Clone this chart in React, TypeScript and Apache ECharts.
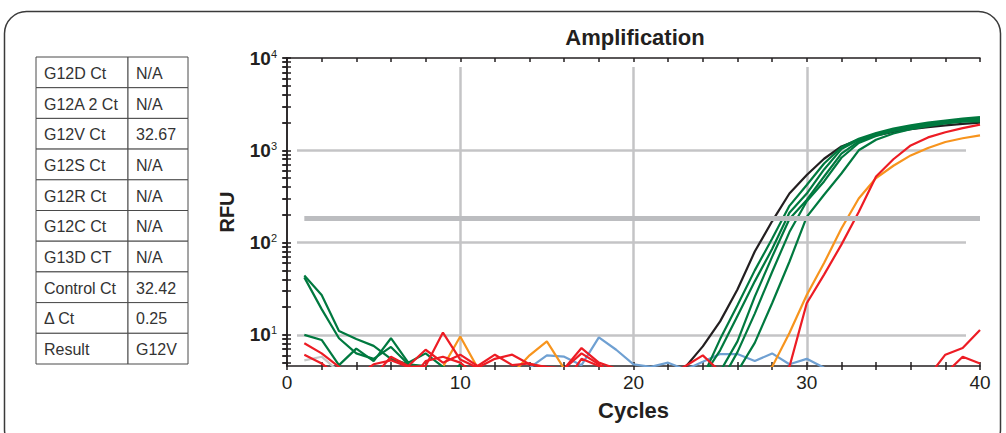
import React, { useEffect, useRef } from "react";
import * as echarts from "echarts";

// ---------------- data ----------------
const cycles = [1, 2, 3, 4, 5, 6, 7, 8, 9, 10, 11, 12, 13, 14, 15, 16, 17, 18, 19, 20,
  21, 22, 23, 24, 25, 26, 27, 28, 29, 30, 31, 32, 33, 34, 35, 36, 37, 38, 39, 40];

const grayRFU = [5.3, 5.8, 4.0, 3, 3, 3, 3, 3, 3, 3, 3, 3, 3, 3, 3, 3, 3, 3, 3, 3,
  3, 3, 3, 3, 3, 3, 3, 3, 3, 3, 3, 3, 3, 3, 3, 3, 3, 3, 3, 3];

const blueRFU = [3, 3, 3, 3, 3, 3, 3, 3, 3, 3, 3, 3, 3, 4.4, 6.0, 5.8, 4.7, 9.4, 6.9, 4.8,
  4.5, 5.0, 4.2, 5.1, 6.2, 6.2, 5.2, 6.3, 4.8, 5.5, 4.4, 3, 3, 3, 3, 3, 3, 3, 3, 3];

const orangeRFU = [3, 3, 3, 3, 3, 3, 3, 3, 4.5, 9.6, 4.4, 3.5, 3.8, 6.0, 8.5, 4.3, 3, 3, 3, 3,
  3, 3, 3, 3, 3, 3, 3.5, 4.5, 10.5, 27, 60, 142, 300, 500, 680, 880, 1060, 1230, 1350, 1450];

const controlRFU = [3, 3, 3, 3, 3, 3, 3, 3, 3, 3, 3, 3, 3, 3, 3, 3, 3, 3, 3, 3,
  3, 3, 4.5, 7.5, 14, 31, 80, 170, 340, 540, 810, 1100, 1300, 1450, 1580, 1690, 1780, 1860, 1930, 1990];

const green1RFU = [44, 27, 11, 9, 7.6, 5.5, 4.8, 3.5, 3, 3, 3, 3, 3, 3, 3, 3, 3, 3, 3, 3,
  3, 3, 3, 3.5, 9.0, 21, 50, 110, 250, 420, 720, 1080, 1330, 1540, 1720, 1860, 1990, 2100, 2200, 2290];

const green2RFU = [42, 19, 9.2, 6.3, 5.5, 7.4, 4.8, 4.6, 3.5, 3, 3, 3, 3, 3, 3, 3, 3, 3, 3, 3,
  3, 3, 3, 3.5, 6.8, 16, 38, 85, 210, 340, 620, 1030, 1300, 1500, 1680, 1820, 1940, 2050, 2140, 2220];

const green3RFU = [10, 8.8, 4.7, 7.1, 5.2, 9.2, 5.0, 6.3, 4.5, 3.5, 3, 3, 3, 3, 3, 3, 3, 3, 3, 3,
  3, 3, 3, 3, 4.0, 8.5, 26, 70, 180, 290, 520, 920, 1250, 1470, 1650, 1790, 1910, 2010, 2100, 2180];

const green4RFU = [3, 3, 3, 3, 3, 3, 3, 3, 3, 4.8, 3.5, 3, 3, 3, 3, 3, 3, 3, 3, 3,
  3, 3, 3, 3, 3, 6.5, 17, 48, 130, 280, 460, 830, 1200, 1430, 1610, 1760, 1880, 1990, 2070, 2120];

const green5RFU = [3, 3, 3, 3, 3, 3, 3, 3, 3, 3, 3, 3, 3, 3, 3, 3, 3, 3, 3, 3,
  3, 3, 3, 3, 3, 4.0, 8.2, 22, 62, 190, 330, 560, 1000, 1300, 1520, 1690, 1830, 1950, 2040, 2060];

const red1RFU = [8.1, 6.3, 4.5, 3.5, 3.5, 5.8, 4.6, 6.9, 5.0, 6.1, 4.6, 6.1, 4.7, 4.9, 4.4, 4.3, 7.2, 5.0, 4.3, 3.5,
  3.5, 3.5, 4.6, 6.0, 4.0, 3.5, 3, 3, 4.5, 22, 45, 95, 215, 520, 800, 1130, 1380, 1570, 1740, 1900];

const red2RFU = [6.1, 4.9, 3.5, 3.5, 4.8, 5.3, 4.5, 4.6, 10.6, 5.4, 4.4, 5.5, 6.1, 4.8, 4.5, 4.3, 6.3, 4.8, 3.5, 3,
  3, 3, 3, 3, 3, 3, 3, 3, 3, 3, 3, 3, 3, 3, 3, 3, 3.5, 6.1, 7.2, 11.3];

const red3RFU = [3, 3, 3, 3, 3, 3, 3, 5.2, 5.8, 5.0, 3.5, 3, 3, 3, 3, 3, 5.5, 4.6, 3, 3,
  3, 3, 3, 3, 3, 3, 3, 3, 3, 3, 3, 3, 3, 3, 3, 3, 3, 3.8, 5.8, 4.9];

const thresholdRFU = 185;

const xLabelValues = [0, 10, 20, 30, 40];
const xGridValues = [10, 20, 30];
const yLabelValues = [10, 100, 1000, 10000];
const yGridValues = [10, 100, 1000];
const yTickValues = [5, 6, 7, 8, 9, 10, 20, 30, 40, 50, 60, 70, 80, 90, 100,
  200, 300, 400, 500, 600, 700, 800, 900, 1000, 2000, 3000, 4000, 5000, 6000, 7000, 8000, 9000, 10000];

const tableLabels = ["G12D Ct", "G12A 2 Ct", "G12V Ct", "G12S Ct", "G12R Ct", "G12C Ct", "G13D CT", "Control Ct", "\u0394 Ct", "Result"];
const tableValues = ["N/A", "N/A", "32.67", "N/A", "N/A", "N/A", "N/A", "32.42", "0.25", "G12V"];

// ---------------- styles ----------------
const FONT = '"Liberation Sans", Arial, Helvetica, sans-serif';
const INK = "#231f20";
const GREEN = "#00793f";
const RED = "#ed1c24";
const ORANGE = "#f7941d";
const BLUE = "#6fa0d2";
const GRAY = "#c8c8c8";
const GRID = "#c4c4c6";

const X_MIN = 0, X_MAX = 40, Y_MIN = 4.6, Y_MAX = 10000;

const seriesDefs = [
  { name: "NTC", values: grayRFU, color: GRAY },
  { name: "Blue", values: blueRFU, color: BLUE },
  { name: "Orange", values: orangeRFU, color: ORANGE },
  { name: "Control", values: controlRFU, color: INK },
  { name: "Green 1", values: green1RFU, color: GREEN },
  { name: "Green 2", values: green2RFU, color: GREEN },
  { name: "Green 3", values: green3RFU, color: GREEN },
  { name: "Green 4", values: green4RFU, color: GREEN },
  { name: "Green 5", values: green5RFU, color: GREEN },
  { name: "Red 1", values: red1RFU, color: RED },
  { name: "Red 2", values: red2RFU, color: RED },
  { name: "Red 3", values: red3RFU, color: RED },
];

function buildOption() {
  const axisLine = { show: true, lineStyle: { color: INK, width: 1.5 } };
  const tickLine = { color: INK, width: 1.5 };

  const tableX = 36, tableY = 57, rowH = 30.7, c1W = 92, c2W = 60;
  const graphics: any[] = [
    {
      type: "rect",
      shape: { x: 4.5, y: 11.5, width: 996, height: 440, r: 22 },
      style: { fill: "none", stroke: "#3a3a3a", lineWidth: 1.5 },
      silent: true,
    },
    {
      type: "text",
      x: 635,
      y: 37,
      style: {
        text: "Amplification", fill: INK, fontSize: 22, fontWeight: "bold", fontFamily: FONT,
        align: "center", verticalAlign: "middle", textAlign: "center", textVerticalAlign: "middle",
      },
    },
  ];
  tableLabels.forEach((lab, i) => {
    const y = tableY + i * rowH;
    graphics.push({
      type: "rect", shape: { x: tableX, y, width: c1W, height: rowH },
      style: { fill: "#fff", stroke: "#4a4a4a", lineWidth: 1 },
    });
    graphics.push({
      type: "rect", shape: { x: tableX + c1W, y, width: c2W, height: rowH },
      style: { fill: "#fff", stroke: "#4a4a4a", lineWidth: 1 },
    });
    graphics.push({
      type: "text", x: tableX + 8, y: y + rowH / 2 + 1,
      style: {
        text: lab, fill: "#333", fontSize: 16, fontFamily: FONT,
        align: "left", verticalAlign: "middle", textAlign: "left", textVerticalAlign: "middle",
      },
    });
    graphics.push({
      type: "text", x: tableX + c1W + 8, y: y + rowH / 2 + 1,
      style: {
        text: tableValues[i], fill: "#333", fontSize: 16, fontFamily: FONT,
        align: "left", verticalAlign: "middle", textAlign: "left", textVerticalAlign: "middle",
      },
    });
  });

  const series: any[] = seriesDefs.map((d) => ({
    name: d.name,
    type: "line",
    xAxisIndex: 0,
    yAxisIndex: 0,
    data: cycles.map((c, i) => [c, d.values[i]]),
    showSymbol: false,
    symbol: "none",
    clip: true,
    z: 3,
    lineStyle: { color: d.color, width: 2.2 },
    itemStyle: { color: d.color },
    silent: true,
  }));
  // threshold line drawn underneath the curves
  series.unshift({
    name: "Threshold",
    type: "line",
    xAxisIndex: 0,
    yAxisIndex: 0,
    data: [],
    z: 2,
    silent: true,
    markLine: {
      silent: true,
      symbol: "none",
      label: { show: false },
      lineStyle: { color: "#bcbdc0", width: 5, type: "solid" },
      data: [[{ coord: [1, thresholdRFU] }, { coord: [X_MAX, thresholdRFU] }]],
    },
  });

  return {
    animation: false,
    backgroundColor: "#ffffff",
    graphic: { elements: graphics },
    grid: [
      { left: 287, right: 26, top: 58, bottom: 67 },
      { left: 297, right: 40, top: 58, bottom: 67 },
      { left: 287, right: 26, top: 67, bottom: 67 },
    ],
    xAxis: [
      {
        type: "value", gridIndex: 0, position: "bottom", min: X_MIN, max: X_MAX, interval: 2,
        axisLine, axisTick: { show: true, inside: false, length: 4, lineStyle: tickLine },
        axisLabel: {
          show: true, customValues: xLabelValues, color: INK, fontSize: 19, fontFamily: FONT, margin: 7,
        },
        splitLine: { show: false },
        name: "Cycles", nameLocation: "middle", nameGap: 33,
        nameTextStyle: { color: INK, fontSize: 22, fontWeight: "bold", fontFamily: FONT },
      },
      {
        type: "value", gridIndex: 0, position: "bottom", min: X_MIN, max: X_MAX, interval: 2,
        axisLine: { show: false }, axisTick: { show: true, inside: true, length: 4, lineStyle: tickLine },
        axisLabel: { show: false }, splitLine: { show: false },
      },
      {
        type: "value", gridIndex: 0, position: "top", min: X_MIN, max: X_MAX, interval: 2,
        axisLine, axisTick: { show: true, inside: true, length: 4, lineStyle: tickLine },
        axisLabel: { show: false }, splitLine: { show: false },
      },
      {
        type: "value", gridIndex: 1, min: X_MIN, max: X_MAX, show: false,
      },
      {
        type: "value", gridIndex: 2, min: X_MIN, max: X_MAX, interval: 10,
        axisLine: { show: false },
        axisTick: { show: false, customValues: xGridValues },
        axisLabel: { show: false },
        splitLine: { show: true, lineStyle: { color: GRID, width: 2.5 } },
      },
    ],
    yAxis: [
      {
        type: "log", logBase: 10, gridIndex: 0, position: "left", min: Y_MIN, max: Y_MAX,
        axisLine,
        axisTick: { show: true, inside: false, length: 4, customValues: yTickValues, lineStyle: tickLine },
        axisLabel: {
          show: true, customValues: yLabelValues, margin: 10,
          formatter: (v: number) => `{b|10}{s|${Math.round(Math.log10(v))}}`,
          rich: {
            b: { fontSize: 19, fontWeight: "bold", color: INK, fontFamily: FONT, lineHeight: 20 },
            s: { fontSize: 11, color: INK, fontFamily: FONT, verticalAlign: "top", lineHeight: 11 },
          },
        },
        splitLine: { show: false },
        name: "RFU", nameLocation: "middle", nameGap: 50,
        nameTextStyle: { color: INK, fontSize: 20, fontWeight: "bold", fontFamily: FONT },
      },
      {
        type: "log", logBase: 10, gridIndex: 0, position: "left", min: Y_MIN, max: Y_MAX,
        axisLine: { show: false },
        axisTick: { show: true, inside: true, length: 4, customValues: yTickValues, lineStyle: tickLine },
        axisLabel: { show: false }, splitLine: { show: false },
      },
      {
        type: "log", logBase: 10, gridIndex: 0, position: "right", min: Y_MIN, max: Y_MAX,
        axisLine,
        axisTick: { show: true, inside: true, length: 5, customValues: yTickValues, lineStyle: tickLine },
        axisLabel: { show: false }, splitLine: { show: false },
      },
      {
        type: "log", logBase: 10, gridIndex: 1, min: Y_MIN, max: Y_MAX,
        axisLine: { show: false },
        axisTick: { show: false, customValues: yGridValues },
        axisLabel: { show: false },
        splitLine: { show: true, lineStyle: { color: GRID, width: 2.5 } },
      },
      {
        type: "value", gridIndex: 2, min: 0, max: 1, show: false,
      },
    ],
    series,
  };
}

export default function App() {
  const ref = useRef<HTMLDivElement>(null);
  useEffect(() => {
    document.body.style.margin = "0";
    const chart = echarts.init(ref.current as HTMLDivElement, null, { renderer: "svg" });
    chart.setOption(buildOption() as any);
    return () => chart.dispose();
  }, []);
  return <div ref={ref} style={{ width: 1006, height: 433 }} />;
}
